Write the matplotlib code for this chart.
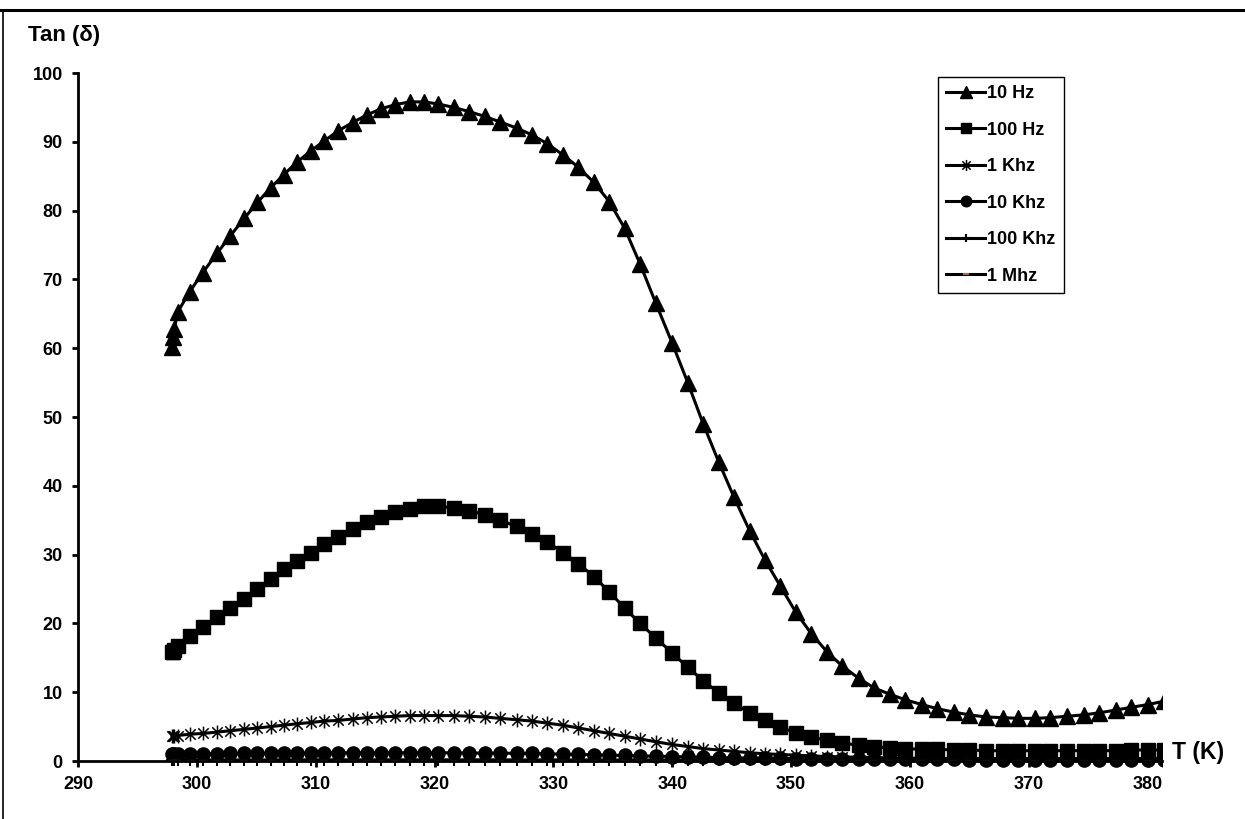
import matplotlib
matplotlib.use("Agg")
import matplotlib.pyplot as plt
from matplotlib.path import Path
from matplotlib.lines import Line2D
from matplotlib.patches import Rectangle

plt.rcParams['font.family'] = ['Liberation Sans', 'DejaVu Sans']
plt.rcParams['font.weight'] = 'bold'

# temperature (K), shared by all frequencies
temps = [297.9, 298.0, 298.1, 298.4, 299.4, 300.5, 301.7, 302.8, 304.0, 305.1,
         306.2, 307.3, 308.4, 309.6, 310.7, 311.9, 313.1, 314.3, 315.5, 316.7,
         317.9, 319.1, 320.3, 321.6, 322.9, 324.2, 325.5, 326.9, 328.2, 329.5,
         330.8, 332.1, 333.4, 334.7, 336.0, 337.3, 338.6, 340.0, 341.3, 342.6,
         343.9, 345.2, 346.5, 347.8, 349.1, 350.4, 351.7, 353.0, 354.3, 355.7,
         357.0, 358.3, 359.6, 361.0, 362.3, 363.7, 365.0, 366.4, 367.8, 369.1,
         370.5, 371.8, 373.2, 374.6, 375.9, 377.3, 378.6, 380.0, 381.4]

tan_10hz = [60.2, 61.6, 62.8, 65.3, 68.2, 71.0, 73.8, 76.3, 78.9, 81.2,
            83.3, 85.2, 87.0, 88.7, 90.1, 91.6, 92.8, 93.9, 94.8, 95.4,
            95.8, 95.8, 95.5, 95.0, 94.4, 93.7, 92.9, 92.0, 91.0, 89.7,
            88.1, 86.3, 84.1, 81.3, 77.4, 72.2, 66.6, 60.7, 55.0, 49.0,
            43.5, 38.3, 33.5, 29.2, 25.4, 21.6, 18.5, 15.9, 13.8, 12.0,
            10.6, 9.7, 8.9, 8.2, 7.6, 7.1, 6.7, 6.4, 6.3, 6.2,
            6.2, 6.3, 6.5, 6.7, 7.0, 7.4, 7.8, 8.2, 8.7]

tan_100hz = [15.8, 15.9, 16.1, 16.7, 18.2, 19.5, 20.9, 22.2, 23.6, 25.0,
             26.4, 27.9, 29.1, 30.3, 31.5, 32.6, 33.7, 34.7, 35.5, 36.2,
             36.7, 37.0, 37.0, 36.8, 36.4, 35.8, 35.0, 34.1, 33.0, 31.8,
             30.3, 28.7, 26.8, 24.6, 22.2, 20.0, 17.9, 15.7, 13.6, 11.7,
             9.9, 8.4, 7.0, 5.9, 4.9, 4.1, 3.5, 3.0, 2.6, 2.3,
             2.1, 1.9, 1.8, 1.7, 1.7, 1.6, 1.6, 1.5, 1.5, 1.5,
             1.5, 1.5, 1.5, 1.5, 1.5, 1.5, 1.6, 1.6, 1.6]

tan_1khz = [3.6, 3.6, 3.7, 3.7, 3.9, 4.0, 4.2, 4.4, 4.6, 4.8,
            5.0, 5.2, 5.4, 5.6, 5.8, 5.9, 6.1, 6.3, 6.4, 6.5,
            6.6, 6.6, 6.6, 6.6, 6.5, 6.4, 6.2, 6.0, 5.8, 5.5,
            5.2, 4.8, 4.4, 4.0, 3.6, 3.2, 2.8, 2.4, 2.1, 1.8,
            1.6, 1.4, 1.2, 1.05, 0.95, 0.85, 0.75, 0.65, 0.6, 0.55,
            0.5, 0.45, 0.42, 0.4, 0.38, 0.37, 0.36, 0.35, 0.35, 0.35,
            0.35, 0.35, 0.35, 0.35, 0.35, 0.35, 0.35, 0.35, 0.35]

tan_10khz = [1.0, 1.0, 1.0, 1.0, 1.0, 1.05, 1.05, 1.1, 1.1, 1.1,
             1.15, 1.15, 1.15, 1.2, 1.2, 1.2, 1.2, 1.2, 1.2, 1.2,
             1.2, 1.2, 1.2, 1.2, 1.15, 1.15, 1.15, 1.1, 1.1, 1.05,
             1.0, 0.95, 0.9, 0.85, 0.8, 0.75, 0.7, 0.65, 0.6, 0.55,
             0.5, 0.45, 0.42, 0.4, 0.37, 0.35, 0.32, 0.3, 0.28, 0.27,
             0.26, 0.25, 0.24, 0.23, 0.22, 0.22, 0.21, 0.21, 0.2, 0.2,
             0.2, 0.2, 0.2, 0.2, 0.2, 0.2, 0.2, 0.2, 0.2]

tan_100khz = [0.15, 0.15, 0.15, 0.15, 0.15, 0.15, 0.16, 0.16, 0.16, 0.16,
              0.16, 0.17, 0.17, 0.17, 0.17, 0.17, 0.17, 0.17, 0.17, 0.17,
              0.17, 0.17, 0.17, 0.17, 0.17, 0.17, 0.17, 0.17, 0.16, 0.16,
              0.16, 0.16, 0.16, 0.15, 0.15, 0.15, 0.15, 0.14, 0.14, 0.14,
              0.13, 0.13, 0.13, 0.12, 0.12, 0.12, 0.12, 0.11, 0.11, 0.11,
              0.11, 0.11, 0.1, 0.1, 0.1, 0.1, 0.1, 0.1, 0.1, 0.1,
              0.1, 0.1, 0.1, 0.1, 0.1, 0.1, 0.1, 0.1, 0.1]

tan_1mhz = [0.05, 0.05, 0.05, 0.05, 0.05, 0.05, 0.05, 0.05, 0.05, 0.05,
            0.05, 0.05, 0.05, 0.05, 0.05, 0.05, 0.05, 0.05, 0.05, 0.05,
            0.05, 0.05, 0.05, 0.05, 0.05, 0.05, 0.05, 0.05, 0.05, 0.05,
            0.05, 0.05, 0.05, 0.05, 0.05, 0.05, 0.05, 0.04, 0.04, 0.04,
            0.04, 0.04, 0.04, 0.04, 0.04, 0.04, 0.04, 0.04, 0.04, 0.04,
            0.04, 0.04, 0.04, 0.04, 0.04, 0.04, 0.04, 0.04, 0.04, 0.04,
            0.04, 0.04, 0.04, 0.04, 0.04, 0.04, 0.04, 0.04, 0.04]

labels = ['10 Hz', '100 Hz', '1 Khz', '10 Khz', '100 Khz', '1 Mhz']
x_ticks = [290, 300, 310, 320, 330, 340, 350, 360, 370, 380]
y_ticks = [0, 10, 20, 30, 40, 50, 60, 70, 80, 90, 100]

# excel style "star" marker: x plus vertical bar
star = Path([(0, -1), (0, 1), (-0.75, -0.75), (0.75, 0.75), (-0.75, 0.75), (0.75, -0.75)],
            [Path.MOVETO, Path.LINETO] * 3)

fig = plt.figure(figsize=(12.45, 8.19), dpi=100)
ax = fig.add_axes([78 / 1245, 58 / 819, 1084 / 1245, 688 / 819])

series = [tan_10hz, tan_100hz, tan_1khz, tan_10khz, tan_100khz, tan_1mhz]
styles = [dict(marker='^', ms=11, mfc='black', mec='black'),
          dict(marker='s', ms=9.5, mfc='black', mec='black'),
          dict(marker=star, ms=10, mfc='none', mec='black', mew=1.1),
          dict(marker='o', ms=9.5, mfc='black', mec='black'),
          dict(marker='+', ms=8, mec='black', mew=1.5),
          dict(marker='_', ms=6, mec='#9c6b63', mew=1.5)]

clip = Rectangle((0, -0.05), 1, 1.1, transform=ax.transAxes, visible=False)
ax.add_patch(clip)
for vals, lab, st in zip(series, labels, styles):
    ln, = ax.plot(temps, vals, color='black', lw=2.2, label=lab, **st)
    ln.set_clip_path(clip)

ax.set_xlim(290, 381.2)
ax.set_ylim(0, 100)
ax.set_xticks(x_ticks)
ax.set_yticks(y_ticks)
ax.spines['top'].set_visible(False)
ax.spines['right'].set_visible(False)
ax.spines['left'].set_linewidth(2)
ax.spines['bottom'].set_linewidth(2)
ax.tick_params(direction='out', length=4, width=2, labelsize=13, pad=7)
for t in ax.get_xticklabels() + ax.get_yticklabels():
    t.set_fontweight('bold')

leg = ax.legend(loc='upper left', bbox_to_anchor=(0.793, 0.994), borderaxespad=0,
                fontsize=13, frameon=True, fancybox=False, edgecolor='black',
                framealpha=1, handlelength=2.2, handletextpad=0.1,
                labelspacing=1.08, borderpad=0.45, numpoints=1, markerscale=0.8)
leg.get_frame().set_linewidth(1)
for t in leg.get_texts():
    t.set_fontweight('bold')

fig.text(28 / 1245, 1 - 36 / 819, 'Tan (δ)', fontsize=16, fontweight='bold',
         ha='left', va='center')
fig.text(1172 / 1245, 1 - 752 / 819, 'T (K)', fontsize=16.5, fontweight='bold',
         ha='left', va='center')

# page frame lines
fig.add_artist(Line2D([0, 1], [1 - 10 / 819, 1 - 10 / 819], color='black', lw=2.2,
                      transform=fig.transFigure))
fig.add_artist(Line2D([3 / 1245, 3 / 1245], [0, 1 - 10 / 819], color='black', lw=1.2,
                      transform=fig.transFigure))

fig.savefig('out.png', dpi=100)
